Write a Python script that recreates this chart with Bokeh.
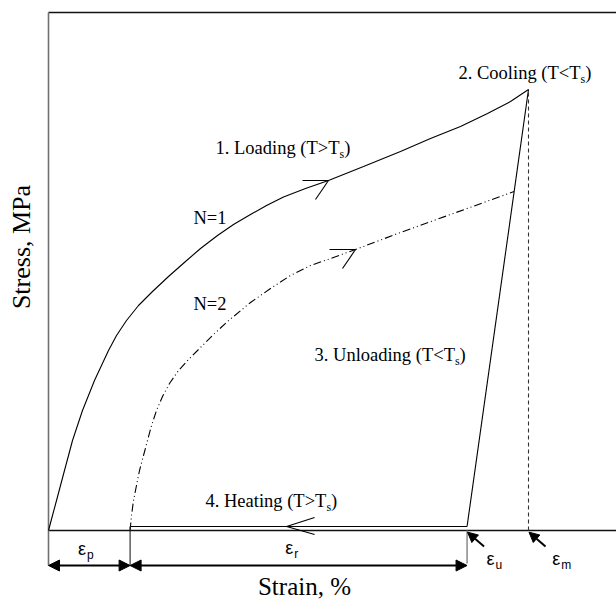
import math
from bokeh.plotting import figure
from bokeh.models import Range1d, Arrow, NormalHead
from bokeh.embed import file_html
from bokeh.resources import INLINE
from bokeh.core.properties import value

# ---------------- data (strain in %, stress in MPa) ----------------
# loading curve of the first cycle (N=1), T > Ts
n1_strain = [0.0, 0.083, 0.167, 0.25, 0.333, 0.417, 0.5, 0.604, 0.708, 0.833,
             0.958, 1.104, 1.25, 1.417, 1.625, 1.875, 2.167, 2.5, 2.854, 3.167,
             3.521, 3.854, 4.208, 4.542, 4.896, 5.354, 5.833, 6.563, 7.333,
             7.958, 8.583, 9.146, 9.625, 10.0]
n1_stress = [0, 15, 30, 45, 60, 75, 90, 105, 120, 135,
             150, 165, 180, 195, 210, 225, 239, 254, 269, 282,
             295, 306, 316, 325, 333.5, 342, 350, 364, 379,
             392, 404, 417, 429, 441]
# loading curve of the second cycle (N=2)
n2_strain = [1.7, 1.729, 1.771, 1.833, 1.896, 1.979, 2.063, 2.146, 2.25, 2.375,
             2.521, 2.708, 2.938, 3.167, 3.438, 3.729, 4.208, 4.625, 5.042,
             5.458, 5.875, 6.396, 7.333, 8.375, 9.7]
n2_stress = [0, 15, 30, 45, 60, 75, 90, 105, 120, 134,
             147, 160, 172, 183, 196, 209, 228, 242, 255,
             265, 272, 281, 298, 316, 339]
# unloading (T < Ts) from the peak down to the residual strain
unload_strain = [10.0, 8.72]
unload_stress = [441, 4]
# heating (T > Ts): recovery of the strain
heat_strain = [8.72, 1.7]
heat_stress = [4, 4]
# characteristic strains
eps_p = 1.7
eps_u = 8.72
eps_m = 10.0
peak_stress = 441
# arrow positions along the paths
n1_arrow_strain = 5.833
n2_arrow_strain = 6.396
heat_arrow_strain = 4.96

# ---------------- layout ----------------
W, H = 616, 602
X0, X1 = -1.0, 11.8333
Y0, Y1 = -72.0, 530.0
PXX = W / (X1 - X0)   # px per strain unit
PXY = H / (Y1 - Y0)   # px per stress unit


def dx(px):
    return px / PXX


def dy(px):
    return px / PXY


TOP = Y1 - dy(12)         # top frame line
DIM_Y = -dy(35)           # dimension arrows level

SERIF = value("Liberation Serif")
SANS = value("Liberation Sans")

TIMES = {' ': 250, '.': 250, ',': 250, '(': 333, ')': 333, '1': 500, '2': 500,
         '3': 500, '4': 500, '=': 564, '<': 564, '>': 564, 'T': 611, 'N': 722,
         'L': 611, 'C': 667, 'U': 722, 'H': 722, 'S': 556, 'M': 889, 'P': 556,
         '%': 833, 'a': 444, 'd': 500, 'e': 444, 'g': 500, 'i': 278, 'l': 278,
         'n': 500, 'o': 500, 'r': 333, 's': 389, 't': 278, 'u': 500}


def tw(s, size):
    return sum(TIMES.get(c, 500) for c in s) * size / 1000.0


p = figure(width=W, height=H, x_range=Range1d(X0, X1), y_range=Range1d(Y0, Y1),
           output_backend="svg", toolbar_location=None, min_border=0,
           x_axis_location=None, y_axis_location=None, outline_line_color=None,
           background_fill_color="white", border_fill_color="white")
p.grid.visible = False

# frame lines
p.line([0, X1], [TOP, TOP], line_color="#111111", line_width=1.4)
p.line([0, X1], [0, 0], line_color="#111111", line_width=1.3)
p.line([0, 0], [TOP, DIM_Y], line_color="#707070", line_width=1.6)

# curves
p.line(n1_strain, n1_stress, line_color="black", line_width=1.1)
p.line(n2_strain, n2_stress, line_color="black", line_width=1.1,
       line_dash="8 3 1 3 1 3")
p.line(unload_strain, unload_stress, line_color="black", line_width=1.1)
p.line(heat_strain, heat_stress, line_color="black", line_width=1.1)
p.line([eps_m, eps_m], [0, peak_stress], line_color="#333333", line_width=1.1,
       line_dash="4 3")

# open arrowheads on the loading curves
bx0, by0, bx1, by1 = [], [], [], []
for xs, ys, xa in ((n1_strain, n1_stress, n1_arrow_strain),
                   (n2_strain, n2_stress, n2_arrow_strain)):
    i = xs.index(xa)
    tx, ty = xs[i], ys[i]
    bx0 += [tx, tx]
    by0 += [ty, ty]
    bx1 += [tx - dx(26), tx - dx(13)]
    by1 += [ty, ty - dy(19)]
# heating arrow "<"
hy = heat_stress[0]
bx0 += [heat_arrow_strain, heat_arrow_strain]
by0 += [hy, hy]
bx1 += [heat_arrow_strain + dx(28), heat_arrow_strain + dx(28)]
by1 += [hy + dy(9), hy - dy(8)]
p.segment(x0=bx0, y0=by0, x1=bx1, y1=by1, line_color="black", line_width=1.1)

# dimension markers
p.segment(x0=[eps_p, eps_u], y0=[heat_stress[0], 0], x1=[eps_p, eps_u],
          y1=[DIM_Y, DIM_Y + dy(2)], line_color=["#222222", "#808080"],
          line_width=[1.1, 1.4])


def head(size):
    return NormalHead(size=size, fill_color="black", line_color="black",
                      line_width=1)


for a, b in ((0, eps_p), (eps_p, eps_u)):
    p.add_layout(Arrow(start=head(11), end=head(11), x_start=a, y_start=DIM_Y,
                       x_end=b, y_end=DIM_Y, line_width=2, line_color="black"))

for e in (eps_u, eps_m):
    p.add_layout(Arrow(end=head(10), x_start=e + dx(17), y_start=-dy(16),
                       x_end=e + dx(0.5), y_end=-dy(1.7), line_width=2,
                       line_color="black"))

# ---------------- texts (anchored at their middle) ----------------
FS, SFS = 18.5, 12
labels = [("1. Loading (T>T", 3.479, 382.2), ("2. Cooling (T<T", 8.542, 457.2),
          ("3. Unloading (T<T", 5.542, 175.2), ("4. Heating (T>T", 3.271, 29.2)]
mx, my, mt, sx, sy, cx = [], [], [], [], [], []
for t, x, y in labels:
    mx.append(x)
    my.append(y)
    mt.append(t)
    xs_ = x + dx(tw(t, FS))
    sx.append(xs_)
    sy.append(y - dy(5.9))
    cx.append(xs_ + dx(tw("s", SFS)))
common = dict(text_baseline="middle", text_color="black")
p.text(x=mx, y=my, text=mt, text_font=SERIF, text_font_size=f"{FS}px",
       text_align="left", **common)
p.text(x=sx, y=sy, text=["s"] * 4, text_font=SERIF, text_font_size=f"{SFS}px",
       text_align="left", **common)
p.text(x=cx, y=my, text=[")"] * 4, text_font=SERIF, text_font_size=f"{FS}px",
       text_align="left", **common)

p.text(x=[3.021, 3.021], y=[312.2, 226.2], text=["N=1", "N=2"], text_font=SERIF,
       text_font_size=f"{FS}px", text_align="left", **common)

# epsilon labels
eps_lab = [("p", 0.615, -18.8), ("r", 4.931, -17.8), ("u", 9.125, -28.8),
           ("m", 10.494, -28.8)]
p.text(x=[e[1] for e in eps_lab], y=[e[2] for e in eps_lab], text=["ε"] * 4,
       text_font=SANS, text_font_size="18px", text_align="left", **common)
p.text(x=[e[1] + dx(9) for e in eps_lab], y=[e[2] - dy(6) for e in eps_lab],
       text=[e[0] for e in eps_lab], text_font=SANS, text_font_size="12px",
       text_align="left", **common)

# axis titles
p.text(x=[-0.5625], y=[283.5], text=["Stress, MPa"], angle=math.pi / 2,
       text_font=SERIF, text_font_size="26px", text_align="center", **common)
p.text(x=[5.333], y=[-55.6], text=["Strain, %"], text_font=SERIF,
       text_font_size="25px", text_align="center", **common)

open("out.html", "w").write(file_html(p, INLINE))
